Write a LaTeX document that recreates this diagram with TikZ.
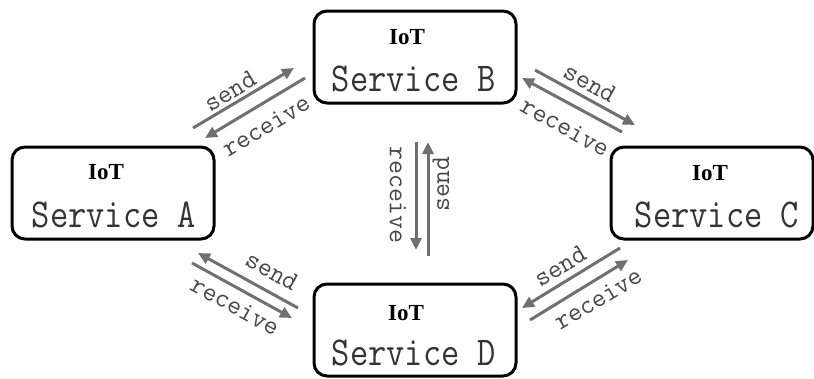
\documentclass[tikz,border=0pt]{standalone}
\usepackage{fontspec}
\usepackage{graphicx}
\newfontfamily\iotfont{Liberation Serif}
\usetikzlibrary{arrows.meta}
\definecolor{arrowgray}{HTML}{707070}
\begin{document}
\begin{tikzpicture}[x=1pt,y=-1pt,
  box/.style={draw=black,line width=3pt,rounded corners=13pt,minimum width=202pt,minimum height=92pt,inner sep=0pt},
  iot/.style={font=\iotfont\bfseries\fontsize{23}{23}\selectfont,inner sep=0pt,anchor=base},
  svc/.style={font=\ttfamily\fontsize{41}{41}\selectfont,text=black!80,inner sep=0pt,anchor=base},
  msg/.style={draw=arrowgray,line width=3pt,-{Triangle[length=12pt,width=11pt]}},
  lbl/.style={font=\ttfamily\fontsize{27}{27}\selectfont,text=black!72,inner sep=0pt}]
\useasboundingbox (0,0) rectangle (814,378);

% boxes
\node[box] (A) at (113,193) {};
\node[box] (B) at (415,57) {};
\node[box] (C) at (712,193) {};
\node[box] (D) at (415,330) {};

% texts
\node[iot] (tA) at (106,179) {IoT};
\node[svc] (sA) at (114,227) {\scalebox{0.865}[1]{Service A}};
\node[iot] (tB) at (407,44) {IoT};
\node[svc] (sB) at (414,91) {\scalebox{0.865}[1]{Service B}};
\node[iot] (tC) at (710,180) {IoT};
\node[svc] (sC) at (717,227) {\scalebox{0.865}[1]{Service C}};
\node[iot] (tD) at (406,320) {IoT};
\node[svc] (sD) at (414,365) {\scalebox{0.865}[1]{Service D}};

% arrow endpoints
\coordinate (ab1) at (193,128); \coordinate (ab2) at (294,68);
\coordinate (ba1) at (305,78);  \coordinate (ba2) at (205,138);
\coordinate (cb1) at (622,132); \coordinate (cb2) at (522,78);
\coordinate (bc1) at (535,70);  \coordinate (bc2) at (635,125);
\coordinate (da1) at (298,308); \coordinate (da2) at (198,253);
\coordinate (ad1) at (192,263); \coordinate (ad2) at (292,318);
\coordinate (cd1) at (620,248); \coordinate (cd2) at (522,308);
\coordinate (dc1) at (530,320); \coordinate (dc2) at (628,260);
\coordinate (bd1) at (416,142); \coordinate (bd2) at (416,250);
\coordinate (db1) at (428,256); \coordinate (db2) at (428,142);

\draw[msg] (ab1) -- (ab2);
\draw[msg] (ba1) -- (ba2);
\draw[msg] (cb1) -- (cb2);
\draw[msg] (bc1) -- (bc2);
\draw[msg] (da1) -- (da2);
\draw[msg] (ad1) -- (ad2);
\draw[msg] (cd1) -- (cd2);
\draw[msg] (dc1) -- (dc2);
\draw[msg] (bd1) -- (bd2);
\draw[msg] (db1) -- (db2);

% labels
\node[lbl,rotate=31] (l1) at (230,91) {send};
\node[lbl,rotate=31] (l2) at (266,126) {receive};
\node[lbl,rotate=-29] (l3) at (590,83) {send};
\node[lbl,rotate=-29] (l4) at (565,127) {receive};
\node[lbl,rotate=-29] (l5) at (272,271) {send};
\node[lbl,rotate=-29] (l6) at (235,306) {receive};
\node[lbl,rotate=31] (l7) at (560,266) {send};
\node[lbl,rotate=31] (l8) at (598,299) {receive};
\node[lbl,rotate=-90] (l9) at (398,195) {receive};
\node[lbl,rotate=90] (l10) at (441,184) {send};
\end{tikzpicture}
\end{document}
